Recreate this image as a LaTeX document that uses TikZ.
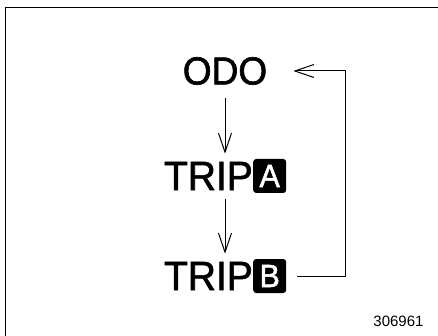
\documentclass[tikz,border=0pt]{standalone}
\usepackage{fontspec}
\setmainfont{Liberation Sans}
\newfontfamily\dispfont[FakeBold=1.6,FakeStretch=0.95]{Liberation Sans}
\usetikzlibrary{arrows.meta,positioning}
\begin{document}
\begin{tikzpicture}[x=1pt, y=-1pt,
  mode/.style={inner sep=0pt, font=\dispfont\fontsize{41}{41}\selectfont},
  keybox/.style={fill=black, text=white, rounded corners=3pt, minimum width=33pt, minimum height=34pt, inner sep=0pt, font=\dispfont\fontsize{32}{32}\selectfont},
  arr/.style={-{Straight Barb[length=19pt,width=13pt]}, line width=1pt}
]
\useasboundingbox (0,0) rectangle (438,336);
% frame
\draw[line width=1.5pt] (5.5,340) -- (5.5,7.5) -- (442,7.5);
\node[mode, font=\dispfont\fontsize{39}{39}\selectfont] (odo) at (225,71) {ODO};
\node[mode, anchor=east] (tripa) at (253,176) {TRIP};
\node[keybox, right=0pt of tripa] (keya) {A};
\node[mode, anchor=east] (tripb) at (253,276) {TRIP};
\node[keybox, right=0pt of tripb] (keyb) {B};
\draw[arr, shorten <=13pt, shorten >=8pt] (odo) -- (odo |- tripa.north);
\draw[arr, shorten <=9pt, shorten >=8pt] (odo |- tripa.south) -- (odo |- tripb.north);
\draw[arr, shorten <=11pt, shorten >=26pt] (keyb.east) -- ++(59,0) |- (odo.east);
\node[font=\fontsize{15}{15}\selectfont, anchor=east] (code) at (427,321) {306961};
\end{tikzpicture}
\end{document}
